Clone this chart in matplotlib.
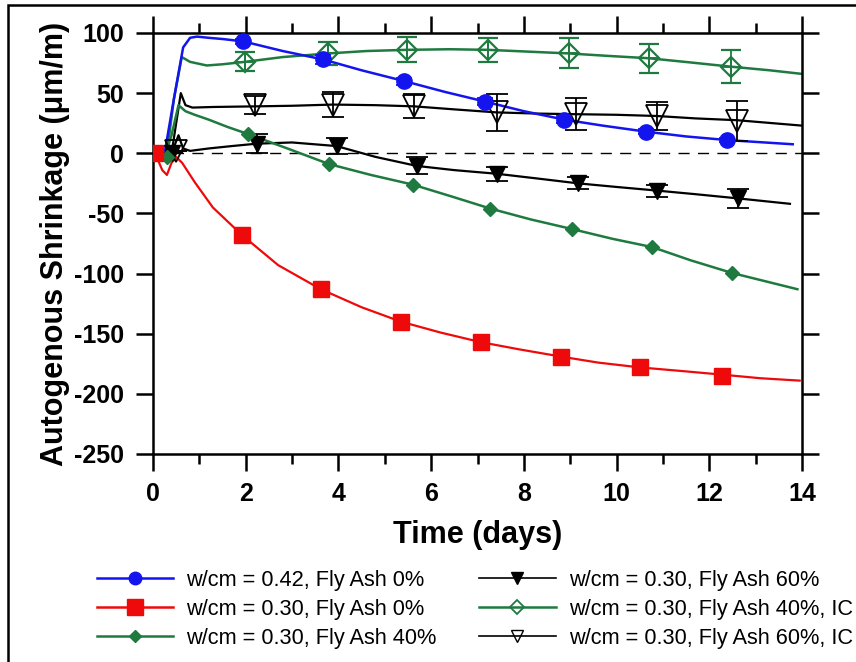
import matplotlib
matplotlib.use("Agg")
import matplotlib.pyplot as plt
from matplotlib.lines import Line2D
from matplotlib.patches import Rectangle

plt.rcParams['font.family'] = ['Liberation Sans', 'DejaVu Sans']
plt.rcParams['axes.unicode_minus'] = False

# curves
blue_x = [0.25, 0.45, 0.65, 0.8, 0.95, 1.2, 1.5, 1.95, 2.8, 3.67, 4.5, 5.42, 6.3, 7.16, 8.0, 8.87, 9.7, 10.63, 11.5, 12.38, 13.8]
blue_y = [0, 45, 88, 96, 97, 96, 95, 93, 85, 78, 69, 60, 51, 43, 35, 28, 23, 18, 14, 11, 7.5]

red_x = [0, 0.1, 0.2, 0.3, 0.4, 0.5, 0.63, 0.9, 1.29, 1.92, 2.7, 3.62, 4.5, 5.35, 6.2, 7.07, 7.9, 8.8, 9.6, 10.5, 11.4, 12.27, 13.1, 13.95]
red_y = [0, -5, -14, -18, -8, -3, -8, -24, -45, -68, -93, -113, -128, -140, -149, -157, -163, -169, -174, -178, -181, -184, -187, -189]

g40_x = [0.25, 0.4, 0.55, 0.7, 0.9, 1.2, 1.6, 2.05, 2.9, 3.8, 4.7, 5.6, 6.45, 7.28, 8.15, 9.04, 9.9, 10.77, 11.6, 12.5, 13.9]
g40_y = [-3, 15, 40, 35, 32, 28, 22, 16, 4, -9, -18, -26, -36, -46, -55, -63, -71, -78, -89, -99.6, -113]

gic_x = [0.3, 0.45, 0.62, 0.8, 1.16, 1.5, 1.98, 2.8, 3.78, 4.6, 5.48, 6.4, 7.22, 8.1, 8.97, 9.8, 10.7, 11.6, 12.47, 13.3, 14]
gic_y = [0, 45, 80, 76, 73, 74, 76, 80, 83, 85, 86, 86.5, 86, 84.5, 83, 81, 79, 75.5, 72, 69, 66]

k60_x = [0.35, 0.45, 0.55, 0.65, 0.8, 1.2, 1.7, 2.24, 3.0, 3.96, 4.8, 5.69, 6.5, 7.41, 8.3, 9.17, 10.0, 10.87, 11.7, 12.62, 13.74]
k60_y = [0, 5, 15, 4, 2, 4, 6, 8, 9, 6, -3, -10.5, -14, -17, -21, -25, -28, -31, -34, -37.5, -42]

kic_x = [0.4, 0.5, 0.6, 0.7, 0.85, 1.3, 2.19, 3.0, 3.88, 4.8, 5.64, 6.5, 7.41, 8.3, 9.12, 10.0, 10.87, 11.7, 12.6, 14]
kic_y = [0, 25, 50, 40, 38, 38.5, 39, 39.5, 40.5, 40, 39, 36.5, 34, 33, 32.5, 32, 31, 29, 27.5, 23]

# marker points and error bars
blue_mx = [1.95, 3.67, 5.42, 7.16, 8.87, 10.63, 12.38]
blue_my = [93, 78, 60, 43, 28, 18, 11]
blue_err = [2, 4, 3, 3, 3, 2, 2]

red_mx = [0.05, 1.92, 3.62, 5.35, 7.07, 8.8, 10.5, 12.27]
red_my = [0, -68, -113, -140, -157, -169, -178, -185]

g40_mx = [0.3, 2.05, 3.8, 5.6, 7.28, 9.04, 10.77, 12.5]
g40_my = [-3, 16, -9, -26, -46, -63, -78, -99.5]

gic_mx = [1.98, 3.78, 5.48, 7.22, 8.97, 10.7, 12.47]
gic_my = [76, 83, 86, 86, 83, 79, 72]
gic_err = [8, 9.5, 10.5, 10, 12.5, 12, 13.5]

k60_mx = [0.4, 2.24, 3.96, 5.69, 7.41, 9.17, 10.87, 12.62]
k60_my = [0, 8, 6, -10.5, -17, -25, -31, -37.5]
k60_err = [0, 8, 7, 7, 6, 5, 5, 8]

kic_mx = [0.5, 2.19, 3.88, 5.64, 7.41, 9.12, 10.87, 12.6]
kic_my = [2, 40, 40.5, 39, 34, 32.5, 31, 27]
kic_err = [0, 7.6, 10.7, 10, 15.6, 13.4, 11.4, 16.6]

labels = ["w/cm = 0.42, Fly Ash 0%", "w/cm = 0.30, Fly Ash 0%", "w/cm = 0.30, Fly Ash 40%",
          "w/cm = 0.30, Fly Ash 60%", "w/cm = 0.30, Fly Ash 40%, IC", "w/cm = 0.30, Fly Ash 60%, IC"]

blue = '#1414ee'
red = '#ee0a0a'
green = '#1f7a40'
black = 'black'

fig = plt.figure(figsize=(8.56, 6.62), dpi=100)
ax = fig.add_axes([153/856, 1-454/662, (802-153)/856, (454-33)/662])

ax.axhline(0, color='black', lw=1.0, ls=(0, (8, 6)), zorder=1)

ax.plot(gic_x, gic_y, color=green, lw=1.8, zorder=2)
ax.plot(kic_x, kic_y, color=black, lw=1.6, zorder=2)
ax.plot(blue_x, blue_y, color=blue, lw=1.8, zorder=3)
ax.plot(k60_x, k60_y, color=black, lw=1.6, zorder=2)
ax.plot(g40_x, g40_y, color=green, lw=1.8, zorder=2)
ax.plot(red_x, red_y, color=red, lw=1.6, zorder=2)

ax.errorbar(gic_mx, gic_my, yerr=gic_err, fmt='D', ms=10.5, mfc='none', mec=green, mew=1.6,
            ecolor=green, elinewidth=1.3, capsize=7, capthick=1.3, zorder=4)
ax.plot(gic_mx, gic_my, '+', ms=14, mec=green, mew=1.3, zorder=4)
ax.errorbar(kic_mx, kic_my, yerr=kic_err, fmt='v', ms=16, mfc='none', mec=black, mew=1.3,
            ecolor=black, elinewidth=1.3, capsize=8, capthick=1.3, zorder=4)
ax.errorbar(k60_mx, k60_my, yerr=k60_err, fmt='v', ms=11, color=black,
            ecolor=black, elinewidth=1.3, capsize=8, capthick=1.3, zorder=4)
ax.errorbar(blue_mx, blue_my, yerr=blue_err, fmt='o', ms=11, color=blue,
            ecolor=blue, elinewidth=1.3, capsize=6, capthick=1.3, zorder=5)
ax.plot(g40_mx, g40_my, 'D', ms=7.5, color=green, zorder=5)
ax.plot(red_mx, red_my, 's', ms=11, color=red, zorder=5)

ax.set_xlim(0, 14)
ax.set_ylim(-250, 100)
ax.set_xticks(range(0, 15, 2))
ax.set_xticks(range(1, 14, 2), minor=True)
ax.set_yticks(range(-250, 101, 50))
for s in ax.spines.values():
    s.set_linewidth(1.8)
ax.tick_params(which='both', direction='out', width=1.8, top=True, right=True,
               labeltop=False, labelright=False, labelsize=18)
ax.tick_params(which='major', length=12)
ax.tick_params(which='minor', length=7)
ax.tick_params(axis='x', which='major', pad=8)
ax.tick_params(axis='y', which='major', pad=9)
for t in ax.get_xticklabels() + ax.get_yticklabels():
    t.set_fontweight('bold')

ax.set_xlabel('Time (days)', fontsize=22, fontweight='bold', labelpad=10)
ax.set_ylabel('Autogenous Shrinkage (\u03bcm/m)', fontsize=22, fontweight='bold', labelpad=3)

handles = [
    Line2D([], [], color=blue, lw=1.8, marker='o', ms=9),
    Line2D([], [], color=red, lw=1.8, marker='s', ms=11),
    Line2D([], [], color=green, lw=1.8, marker='D', ms=6.5),
    Line2D([], [], color=black, lw=1.2, marker='v', ms=9),
    Line2D([], [], color=green, lw=1.8, marker='D', ms=7, mfc='none', mew=1.3),
    Line2D([], [], color=black, lw=1.2, marker='v', ms=9, mfc='none', mew=1.0),
]
fig.legend(handles, labels, ncol=2, loc='upper left', bbox_to_anchor=(97/856, 1-570/662),
           frameon=False, fontsize=15.7, handlelength=3.5, handletextpad=0.6,
           columnspacing=1.95, labelspacing=0.36, borderpad=0, borderaxespad=0)

fig.patches.append(Rectangle((8/856, -0.05), 1.2, 0.05 + 1 - 5/662, transform=fig.transFigure,
                             fill=False, ec='black', lw=1.8))

fig.savefig('out.png', dpi=100)
